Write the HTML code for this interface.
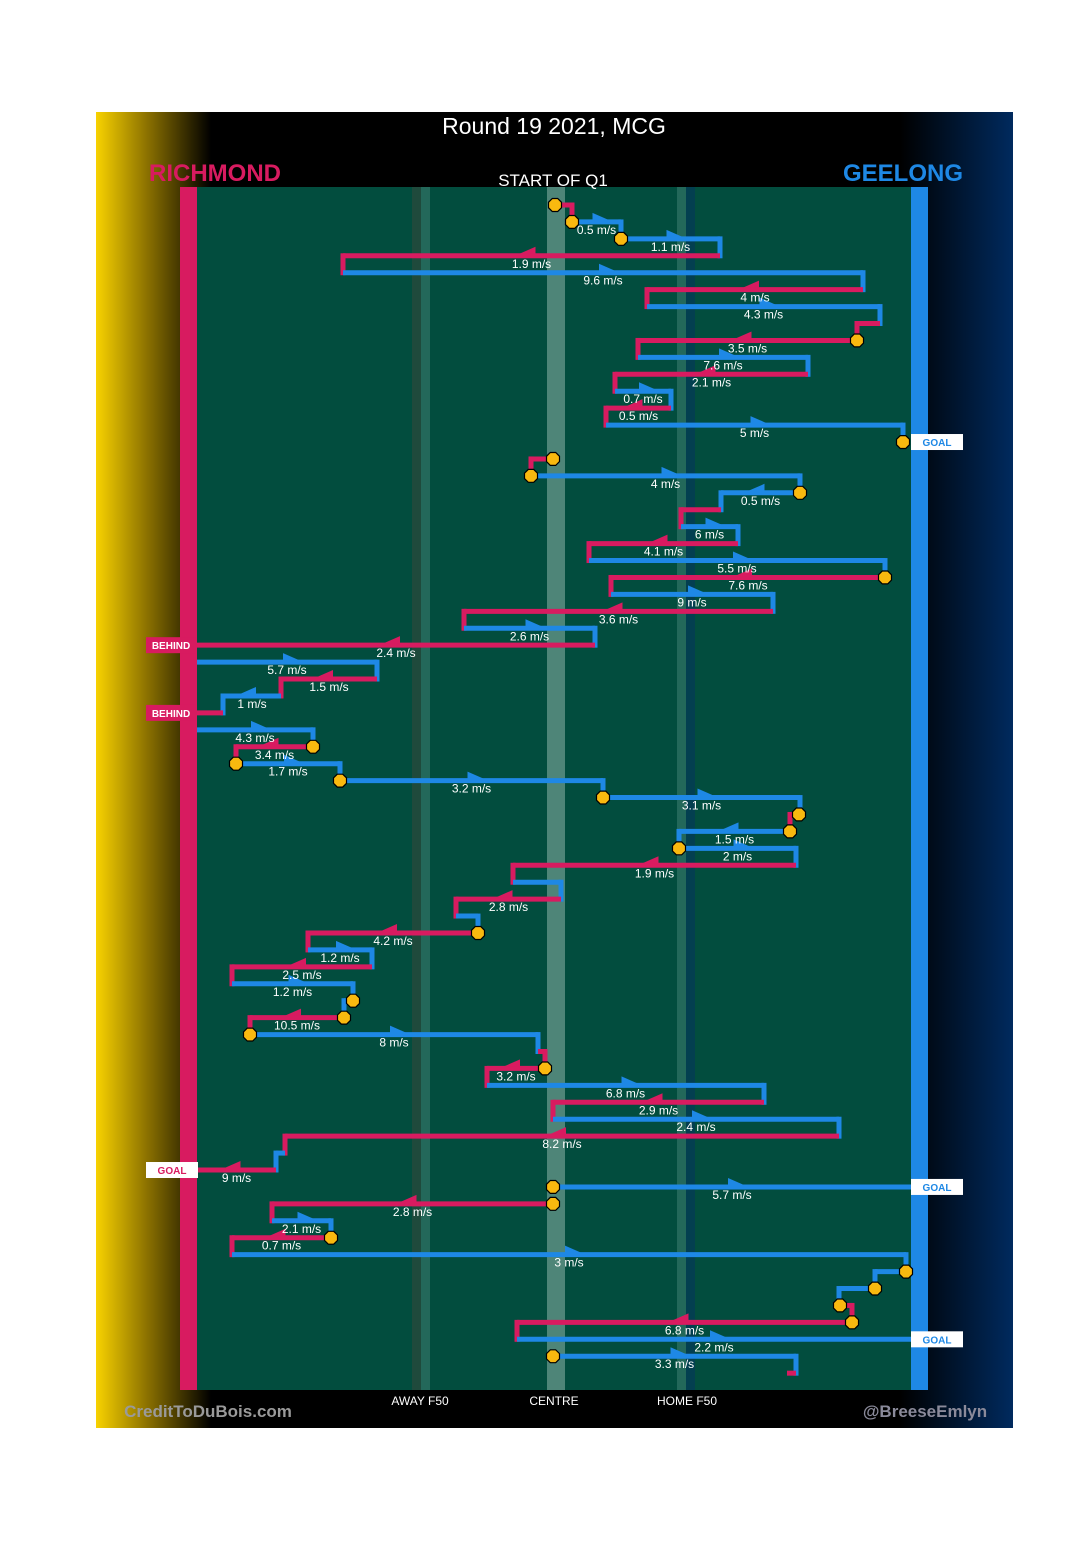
<!DOCTYPE html>
<html><head><meta charset="utf-8">
<style>
html,body{margin:0;padding:0;background:#fff;}
svg{display:block;font-family:"Liberation Sans",sans-serif;}
</style></head>
<body>
<svg id="chart" width="1080" height="1555" viewBox="0 0 1080 1555" xmlns="http://www.w3.org/2000/svg">
<defs>
<linearGradient id="lg" x1="0" x2="1" y1="0" y2="0"><stop offset="0" stop-color="#f8d200"/><stop offset="0.45" stop-color="#8a7000"/><stop offset="1" stop-color="#000"/></linearGradient>
<linearGradient id="rg" x1="0" x2="1" y1="0" y2="0"><stop offset="0" stop-color="#000"/><stop offset="1" stop-color="#002a5e"/></linearGradient>
</defs>
<rect x="96" y="112" width="917" height="1316" fill="#000"/>
<rect x="96" y="112" width="115" height="1316" fill="url(#lg)"/>
<rect x="900" y="112" width="113" height="1316" fill="url(#rg)"/>
<rect x="197" y="187" width="714" height="1203" fill="#024d3e"/>
<rect x="412" y="187" width="9" height="1203" fill="#1f4a3c"/>
<rect x="421" y="187" width="9" height="1203" fill="#23685a"/>
<rect x="547" y="187" width="18" height="1203" fill="#4e8578"/>
<rect x="677" y="187" width="9" height="1203" fill="#23685a"/>
<rect x="686" y="187" width="9" height="1203" fill="#033f50"/>
<rect x="180" y="187" width="17" height="1203" fill="#d81b60"/>
<rect x="911" y="187" width="17" height="1203" fill="#1e88e5"/>
<text x="554" y="134" fill="#fff" font-size="23" text-anchor="middle">Round 19 2021, MCG</text>
<text x="215" y="181" fill="#d81b60" font-size="24" font-weight="bold" text-anchor="middle">RICHMOND</text>
<text x="903" y="181" fill="#1e88e5" font-size="24" font-weight="bold" text-anchor="middle">GEELONG</text>
<text x="553" y="186" fill="#fff" font-size="17" text-anchor="middle">START OF Q1</text>
<text x="420" y="1405" fill="#fff" font-size="12" text-anchor="middle">AWAY F50</text>
<text x="554" y="1405" fill="#fff" font-size="12" text-anchor="middle">CENTRE</text>
<text x="687" y="1405" fill="#fff" font-size="12" text-anchor="middle">HOME F50</text>
<text x="208" y="1417" fill="#9a9a9a" font-size="17" font-weight="bold" text-anchor="middle">CreditToDuBois.com</text>
<text x="925" y="1417" fill="#8a8a9a" font-size="17" font-weight="bold" text-anchor="middle">@BreeseEmlyn</text>
<g id="chain"></g>
</svg>
<script>
// rows of the possession chain, one per index
const teams  = ['R','B','B','R','B','R','B','R','R','B','R','B','R','B','B','R','B','B','R','B','R','B','R','B','R','B','R','B','R','B','R','B','R','B','B','B','R','B','B','R','B','R','B','R','B','R','B','B','R','B','R','R','B','R','B','R','B','R','B','R','B','R','B','B','B','R','R','B','B','R'];
const xStart = [555,572,621,720,343,863,647,880,857,638,808,615,671,606,903,553,531,800,721,681,738,589,885,611,773,464,595,197,377,281,223,197,313,236,340,603,799,790,679,796,513,561,456,478,308,372,232,353,344,250,538,545,487,764,553,839,285,276,553,553,272,331,232,906,875,840,852,517,553,796];
const xEnd   = [572,621,720,343,863,647,880,857,638,808,615,671,606,903,903,531,800,721,681,738,589,885,611,773,464,595,197,377,281,223,197,313,236,340,603,800,790,679,796,513,561,456,478,308,372,232,353,344,250,538,545,487,764,553,839,285,276,197,911,272,331,232,906,875,839,852,517,911,796,787];
const speeds = ['','0.5','1.1','1.9','9.6','4','4.3','','3.5','7.6','2.1','0.7','0.5','5','','','4','0.5','','6','4.1','5.5','7.6','9','3.6','2.6','2.4','5.7','1.5','1','','4.3','3.4','1.7','3.2','3.1','','1.5','2','1.9','','2.8','','4.2','1.2','2.5','1.2','','10.5','8','','3.2','6.8','2.9','2.4','8.2','','9','5.7','2.8','2.1','0.7','3','','','','6.8','2.2','3.3',''];
const startCircle = [1,1,1,0,0,0,0,0,1,0,0,0,0,0,1,1,1,1,0,0,0,0,1,0,0,0,0,0,0,0,0,0,1,1,1,1,1,1,1,0,0,0,0,1,0,0,0,1,1,1,0,1,0,0,0,0,0,0,1,1,0,1,0,1,1,1,1,0,1,0];
const outcomes = ['','','','','','','','','','','','','','','GOAL','','','','','','','','','','','','BEHIND','','','','BEHIND','','','','','','','','','','','','','','','','','','','','','','','','','','','GOAL','GOAL','','','','','','','','','GOAL','',''];

const svg = document.getElementById('chain');
const NS = 'http://www.w3.org/2000/svg';
const RED = '#d81b60', BLUE = '#1e88e5';
const y0 = 205, step = 16.93;
function yOf(i){ return y0 + i*step; }
function col(t){ return t === 'R' ? RED : BLUE; }
function mk(tag, attrs){ const e = document.createElementNS(NS, tag); for (const k in attrs) e.setAttribute(k, attrs[k]); svg.appendChild(e); return e; }

const segLayer = [], topLayer = [];
for (let i = 0; i < teams.length; i++) {
  const y = yOf(i), c = col(teams[i]), a = xStart[i], b = xEnd[i];
  const line = mk('line', {x1:a, y1:y, x2:b, y2:y, stroke:c, 'stroke-width':5, 'stroke-linecap':'butt'});
  
  
  // vertical connector down to next row
  if (i < teams.length - 1 && !outcomes[i] && Math.abs(xStart[i+1] - b) < 3) {
    const v = mk('line', {x1:b, y1:y-2.5, x2:b, y2:yOf(i+1)+2.5, stroke:c, 'stroke-width':5});
    
    
  }
  if (speeds[i]) {
    const m = (a + b) / 2, dir = b > a ? 1 : -1;
    const tri = mk('polygon', {points: `${m+dir*12},${y-2} ${m-dir*4},${y-9} ${m-dir*4},${y-2}`, fill:c});
    
    
    topLayer.push({m, y, s: speeds[i]});
  }
}
for (let i = 0; i < teams.length; i++) {
  if (startCircle[i]) {
    const x = xStart[i], y = yOf(i), r = 7;
    let pts = [];
    for (let k = 0; k < 8; k++) { const ang = Math.PI/8 + k*Math.PI/4; pts.push((x + r*Math.cos(ang)).toFixed(1) + ',' + (y + r*Math.sin(ang)).toFixed(1)); }
    const o = mk('polygon', {points: pts.join(' '), fill:'#f9b90f', stroke:'#000', 'stroke-width':1.2});
    
    
  }
}
for (const t of topLayer) {
  const tx = mk('text', {x:t.m, y:t.y+12, fill:'#fff', 'font-size':12, 'text-anchor':'middle'});
  tx.textContent = t.s + ' m/s';
  
  
}
for (let i = 0; i < outcomes.length; i++) {
  if (!outcomes[i]) continue;
  const y = yOf(i), left = teams[i] === 'R';
  const w = outcomes[i] === 'GOAL' ? 52 : 50;
  const bx = left ? 146 : 911;
  const bg = outcomes[i] === 'BEHIND' ? RED : '#fff';
  const fg = outcomes[i] === 'BEHIND' ? '#fff' : col(teams[i]);
  const r = mk('rect', {x:bx, y:y-8, width:w, height:16, fill:bg});
  
  
  const tx = mk('text', {x:bx+w/2, y:y+4, fill:fg, 'font-size':10, 'font-weight':'bold', 'text-anchor':'middle'});
  tx.textContent = outcomes[i];
  
  
}
</script>
</body></html>
